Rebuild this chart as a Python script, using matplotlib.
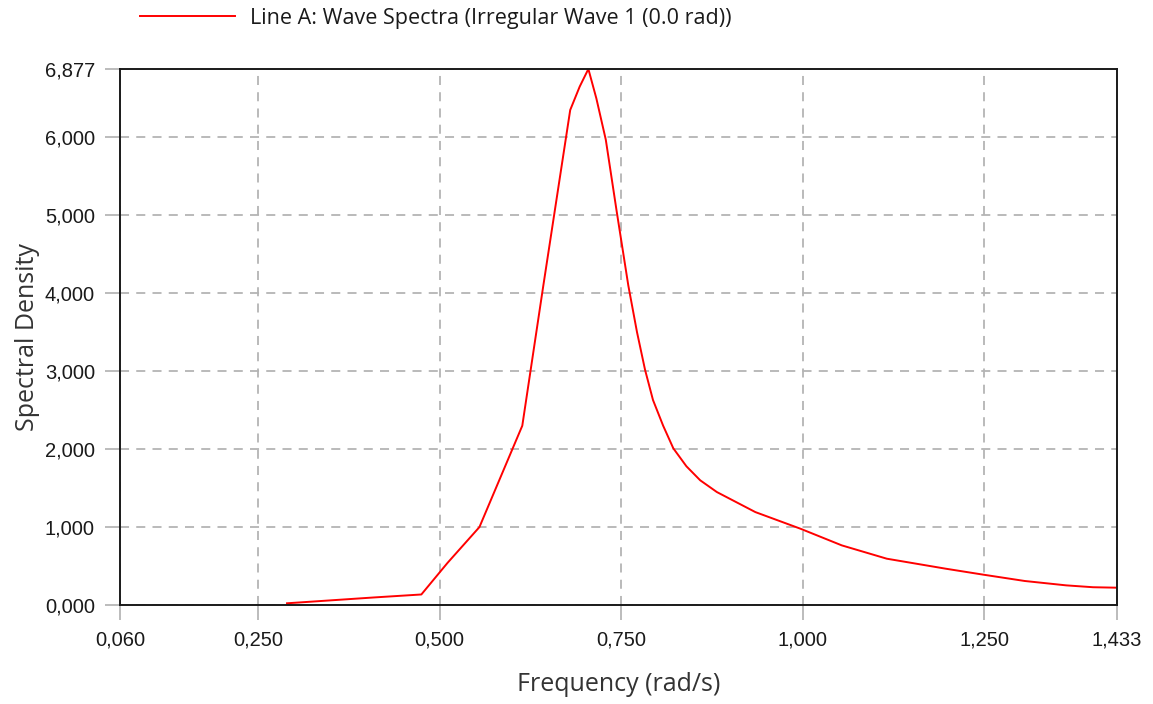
import matplotlib.pyplot as plt
from matplotlib.ticker import FuncFormatter

# Wave spectrum of irregular wave 1 (0.0 rad)
freq = [0.290, 0.410, 0.475, 0.511, 0.555, 0.614, 0.643, 0.680, 0.693, 0.705,
        0.716, 0.729, 0.744, 0.760, 0.772, 0.783, 0.794, 0.808, 0.822, 0.840,
        0.859, 0.882, 0.935, 0.997, 1.054, 1.116, 1.197, 1.249, 1.306, 1.363,
        1.400, 1.433]
density = [0.022, 0.097, 0.135, 0.540, 1.000, 2.300, 4.100, 6.351, 6.650, 6.877,
           6.500, 5.970, 5.050, 4.100, 3.500, 3.020, 2.630, 2.300, 2.010, 1.780,
           1.600, 1.449, 1.192, 0.979, 0.765, 0.594, 0.466, 0.389, 0.308, 0.252,
           0.228, 0.222]

x_ticks = [0.060, 0.250, 0.500, 0.750, 1.000, 1.250, 1.433]
y_ticks = [0.0, 1.0, 2.0, 3.0, 4.0, 5.0, 6.0, 6.877]

series_label = "Line A: Wave Spectra (Irregular Wave 1 (0.0 rad))"

plt.rcParams['font.family'] = ['Open Sans', 'DejaVu Sans']

fig = plt.figure(figsize=(11.53, 7.04), dpi=100)
ax = fig.add_axes([120 / 1153, 99 / 704, 997 / 1153, 536 / 704])

ax.plot(freq, density, color='#ff0000', lw=1.4, label=series_label)

ax.set_xlim(x_ticks[0], x_ticks[-1])
ax.set_ylim(y_ticks[0], y_ticks[-1])
ax.set_xticks(x_ticks)
ax.set_yticks(y_ticks)

comma = FuncFormatter(lambda v, pos: f"{v:.3f}".replace('.', ','))
ax.xaxis.set_major_formatter(comma)
ax.yaxis.set_major_formatter(comma)

ax.tick_params(direction='out', length=11, width=1.2, color='#b0b0b0',
               labelsize=14.5, labelcolor='#1a1a1a', pad=7)
for lbl in ax.get_xticklabels() + ax.get_yticklabels():
    lbl.set_family('Liberation Sans')

ax.grid(True, color='#b4b4b4', linestyle=(0, (5, 4)), linewidth=1.3)
for side in ax.spines.values():
    side.set_color('#1a1a1a')
    side.set_linewidth(1.4)

ax.set_xlabel("Frequency (rad/s)", fontsize=18, color='#333333')
ax.set_ylabel("Spectral Density", fontsize=18, color='#333333')
ax.xaxis.set_label_coords(0.5, -0.125)
ax.yaxis.set_label_coords(-0.080, 0.5)

fig.legend(loc='upper left', bbox_to_anchor=(140 / 1153, 1 - 8 / 704),
           frameon=False, fontsize=15.5, handlelength=4.4, handletextpad=0.7,
           borderpad=0, borderaxespad=0, labelcolor='#1a1a1a')

fig.savefig('out.png', dpi=100)
